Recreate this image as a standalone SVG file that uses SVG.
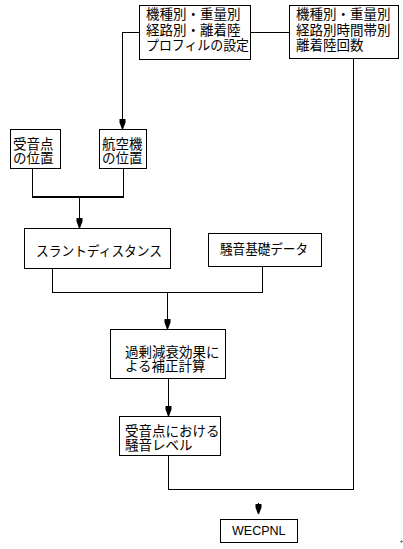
<svg xmlns="http://www.w3.org/2000/svg" width="403" height="549" viewBox="0 0 403 549">
  <style>
    .box { fill: #ffffff; stroke: #000000; stroke-width: 1; shape-rendering: crispEdges; }
    .t { font-family: "Noto Sans CJK JP", "Noto Sans CJK SC", sans-serif; font-size: 13.5px; fill: #000000; }
    .latin { font-family: "Liberation Sans", Arial, sans-serif; font-size: 12.5px; fill: #000000; }
    .wire { fill: none; stroke: #000000; stroke-width: 1; shape-rendering: crispEdges; }
    .thick { fill: none; stroke: #000000; stroke-width: 2; shape-rendering: crispEdges; }
  </style>
  <defs>
    <marker id="arrow" viewBox="0 0 10 8" refX="10" refY="4" markerWidth="10" markerHeight="8" markerUnits="userSpaceOnUse" orient="auto">
      <path d="M0,1 H3.5 L10,3.4 V4.6 L3.5,7 H0 Z" fill="#000000"/>
    </marker>
  </defs>
  <rect width="403" height="549" fill="#ffffff"/>

  <g id="connectors">
    <path class="wire" d="M139,32.5 H122.5 V129" marker-end="url(#arrow)"/>
    <path class="wire" d="M251,32.5 H289"/>
    <path class="wire" d="M32.5,169 V197 M123.5,169 V197"/>
    <path class="thick" d="M32,197 H124"/>
    <path class="wire" d="M79.5,198 V228" marker-end="url(#arrow)"/>
    <path class="wire" d="M52.5,269 V292.5 H262.5 V267"/>
    <path class="wire" d="M167.5,292.5 V329" marker-end="url(#arrow)"/>
    <path class="wire" d="M168.5,379 V416" marker-end="url(#arrow)"/>
    <path class="wire" d="M168.5,456 V489.5 H353.5 V59"/>
    <path class="wire" d="M258.5,503 V514" marker-end="url(#arrow)"/>
  </g>

  <g id="node-profile">
    <rect class="box" x="139.5" y="5.5" width="111" height="54"/>
    <text class="t" x="146" y="19">機種別・重量別<tspan x="146" dy="15.5">経路別・離着陸</tspan><tspan x="146" dy="15.5" textLength="103" lengthAdjust="spacingAndGlyphs">プロフィルの設定</tspan></text>
  </g>

  <g id="node-count">
    <rect class="box" x="289.5" y="5.5" width="109" height="53"/>
    <text class="t" x="296" y="19">機種別・重量別<tspan x="296" dy="15.5">経路別時間帯別</tspan><tspan x="296" dy="15.5">離着陸回数</tspan></text>
  </g>

  <g id="node-receiver">
    <rect class="box" x="10.5" y="129.5" width="50" height="39"/>
    <text class="t" x="13" y="149">受音点<tspan x="13" dy="13.5">の位置</tspan></text>
  </g>

  <g id="node-aircraft">
    <rect class="box" x="99.5" y="129.5" width="47" height="39"/>
    <text class="t" x="102" y="149">航空機<tspan x="102" dy="13.5">の位置</tspan></text>
  </g>

  <g id="node-slant">
    <rect class="box" x="24.5" y="228.5" width="146" height="40"/>
    <text class="t" x="36" y="256" textLength="126" lengthAdjust="spacingAndGlyphs">スラントディスタンス</text>
  </g>

  <g id="node-basic">
    <rect class="box" x="208.5" y="233.5" width="113" height="33"/>
    <path class="wire" d="M208,233 H322"/>
    <text class="t" x="220" y="254" textLength="88" lengthAdjust="spacingAndGlyphs">騒音基礎データ</text>
  </g>

  <g id="node-correction">
    <rect class="box" x="110.5" y="329.5" width="115" height="49"/>
    <text class="t" x="125" y="357">過剰減衰効果に<tspan x="125" dy="14">よる補正計算</tspan></text>
  </g>

  <g id="node-level">
    <rect class="box" x="119.5" y="416.5" width="101" height="39"/>
    <text class="t" x="125" y="436">受音点における<tspan x="125" dy="13.5">騒音レベル</tspan></text>
  </g>

  <g id="node-wecpnl">
    <rect class="box" x="220.5" y="519.5" width="77" height="23"/>
    <text class="latin" x="232" y="535">WECPNL</text>
  </g>

  <path d="M400,541.5 H403 M401.5,540 V543" stroke="#888888" stroke-width="1" fill="none"/>
</svg>
